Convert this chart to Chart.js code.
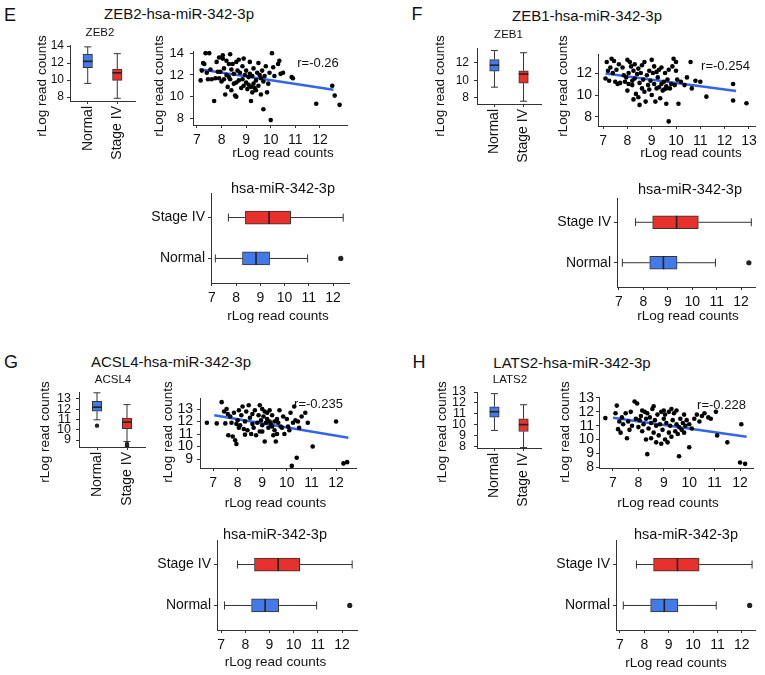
<!DOCTYPE html>
<html><head><meta charset="utf-8">
<script src="https://cdn.jsdelivr.net/npm/chart.js@4.4.1/dist/chart.umd.min.js"></script>
<style>
html,body{margin:0;padding:0;background:#fff;}
#wrap{position:relative;width:765px;height:675px;overflow:hidden;font-family:'Liberation Sans',Arial,Helvetica,sans-serif;color:#111;}
canvas{position:absolute;}
.t{position:absolute;white-space:nowrap;transform:translate(-50%,-50%);line-height:1;z-index:5;}
.r{transform:translate(-50%,-50%) rotate(-90deg);}
</style></head><body><div id="wrap"></div>
<script>
// ---------------- DATA ----------------
const groups = ['Normal', 'Stage IV'];
const groupPos = [1, 2];

// small boxplots: [min, q1, median, q3, max] for Normal, Stage IV
const zeb2Box  = [[9.6, 11.45, 12.2, 13.05, 13.9], [7.85, 9.95, 10.85, 11.28, 13.1]];
const zeb1Box  = [[9.23, 11.07, 11.74, 12.37, 13.42], [7.63, 9.68, 10.73, 11.1, 13.16]];
const acsl4Box = [[10.97, 11.8, 12.2, 12.77, 13.6], [8.85, 10.1, 10.75, 11.15, 12.45]];
const lats2Box = [[9.5, 10.7, 11.2, 11.66, 12.85], [7.94, 9.4, 10.03, 10.56, 11.84]];
const acsl4Out = [[1, 10.4], [2, 8.62], [2, 8.52], [2, 8.42]];

// miRNA boxplot (hsa-miR-342-3p)
const mirBox = [[7.14, 8.26, 8.82, 9.38, 10.95], [7.68, 8.38, 9.36, 10.25, 12.42]];
const mirOut = [[1, 12.32]];

// tick labels
const ticksZeb2Small  = [8, 10, 12, 14];
const ticksZeb1Small  = [8, 10, 12];
const ticksAcsl4Small = [9, 10, 11, 12, 13];
const ticksLats2Small = [8, 9, 10, 11, 12, 13];
const ticksZeb2Y  = [8, 10, 12, 14];
const ticksZeb1Y  = [8, 10, 12];
const ticksAcsl4Y = [9, 10, 11, 12, 13];
const ticksLats2Y = [8, 9, 10, 11, 12, 13];
const ticksX7to12 = [7, 8, 9, 10, 11, 12];
const ticksX7to13 = [7, 8, 9, 10, 11, 12, 13];

// scatter points [miR-342-3p, gene]
const zeb2Points = [[7.15,11.5],[7.2,12.4],[7.25,13.1],[7.3,13.0],[7.35,14.0],[7.5,14.0],[7.45,11.6],[7.55,12.5],[7.6,11.6],[7.7,9.6],[7.75,11.7],[7.8,13.2],[7.85,12.3],[7.9,11.7],[7.95,12.3],[8.0,11.4],[8.05,13.5],[8.05,13.8],[8.1,12.6],[8.1,11.6],[8.15,10.2],[8.2,13.3],[8.2,12.0],[8.25,10.9],[8.3,11.8],[8.3,13.0],[8.35,13.9],[8.4,12.5],[8.4,10.6],[8.45,13.0],[8.5,11.2],[8.5,12.1],[8.55,10.1],[8.6,13.2],[8.6,10.0],[8.65,12.4],[8.7,11.5],[8.7,13.4],[8.75,12.2],[8.8,10.8],[8.85,11.6],[8.85,12.8],[8.9,11.0],[8.95,12.0],[9.0,11.3],[9.0,12.4],[9.05,10.7],[9.1,11.8],[9.1,11.1],[9.15,12.1],[9.2,9.6],[9.2,10.9],[9.25,11.9],[9.3,11.2],[9.3,12.6],[9.35,10.8],[9.4,11.5],[9.45,12.2],[9.5,11.0],[9.5,13.1],[9.55,12.0],[9.6,11.7],[9.65,12.4],[9.7,11.4],[9.7,8.85],[9.75,11.9],[9.8,12.8],[9.85,10.4],[9.9,11.2],[9.95,12.2],[10.0,7.85],[10.05,14.0],[10.1,12.7],[10.15,11.9],[10.3,13.0],[10.35,13.3],[10.4,12.1],[10.5,12.2],[10.85,11.8],[10.9,11.7],[11.85,9.35],[12.5,11.0],[12.6,10.1],[12.8,9.25],[7.4,12.2],[8.9,13.5],[9.15,13.2],[9.4,10.6],[8.6,11.3],[9.6,10.2],[8.35,11.6],[7.9,13.6],[9.25,10.4]];
const zeb1Points = [[7.1,11.5],[7.15,13.0],[7.2,12.2],[7.25,11.3],[7.3,12.5],[7.35,13.3],[7.4,12.0],[7.45,13.1],[7.5,11.2],[7.55,12.3],[7.6,11.0],[7.7,11.1],[7.8,12.5],[7.85,11.8],[7.9,11.2],[7.95,11.6],[8.0,13.2],[8.05,12.0],[8.05,11.0],[8.1,13.0],[8.15,12.6],[8.2,11.3],[8.2,10.9],[8.25,12.2],[8.3,11.5],[8.3,12.8],[8.35,10.1],[8.4,11.9],[8.45,9.8],[8.45,12.4],[8.5,11.1],[8.5,9.1],[8.55,12.0],[8.6,10.6],[8.6,12.7],[8.65,11.4],[8.7,10.3],[8.7,13.0],[8.75,9.4],[8.8,11.8],[8.85,10.9],[8.9,12.2],[8.95,11.3],[9.0,13.2],[9.0,10.0],[9.05,12.0],[9.1,11.0],[9.15,9.4],[9.2,12.1],[9.2,10.6],[9.25,11.6],[9.3,12.3],[9.35,9.7],[9.4,11.0],[9.4,12.5],[9.45,10.4],[9.5,11.2],[9.55,12.0],[9.6,10.8],[9.6,9.2],[9.65,11.4],[9.7,7.6],[9.7,12.3],[9.75,10.6],[9.8,11.0],[9.85,12.6],[9.9,13.3],[9.95,10.9],[10.0,13.0],[10.0,12.2],[10.05,11.4],[10.1,9.2],[10.2,11.2],[10.35,10.9],[10.45,11.6],[10.6,13.0],[10.65,10.6],[10.8,11.3],[11.0,11.2],[11.25,9.85],[12.35,11.0],[12.35,9.5],[12.9,9.25],[8.0,10.4],[8.9,10.5],[9.3,10.7],[9.5,10.5],[9.6,10.6],[7.65,12.8],[9.1,12.6],[8.25,9.6]];
const acsl4Points = [[6.75,11.9],[7.15,11.85],[7.35,13.55],[7.45,12.8],[7.5,11.85],[7.55,13.0],[7.6,12.6],[7.62,10.9],[7.7,12.4],[7.75,11.9],[7.8,10.8],[7.85,12.7],[7.9,10.5],[7.95,10.2],[7.95,11.8],[8.0,12.1],[8.05,12.9],[8.1,11.7],[8.15,12.5],[8.2,13.2],[8.25,11.4],[8.3,12.0],[8.35,12.8],[8.4,11.3],[8.45,13.3],[8.5,12.3],[8.55,11.0],[8.6,12.6],[8.65,11.5],[8.7,12.9],[8.75,10.9],[8.8,11.9],[8.85,12.5],[8.9,11.2],[8.95,12.1],[9.0,13.0],[9.0,11.7],[9.05,12.4],[9.1,10.4],[9.1,12.8],[9.15,11.9],[9.2,12.2],[9.25,11.5],[9.3,12.9],[9.3,12.0],[9.35,11.8],[9.4,12.5],[9.45,10.9],[9.5,12.0],[9.5,11.3],[9.55,10.4],[9.6,12.2],[9.65,11.9],[9.7,12.9],[9.75,11.6],[9.8,11.5],[9.85,12.4],[9.9,11.0],[10.0,12.2],[10.05,11.6],[10.15,12.7],[10.2,8.45],[10.25,11.9],[10.35,12.1],[10.4,9.1],[10.45,12.0],[10.5,11.5],[10.6,12.4],[10.75,12.7],[10.85,11.9],[11.05,10.0],[12.0,12.0],[12.3,8.65],[12.45,8.75],[8.05,11.5],[8.6,11.8],[9.2,12.7],[9.4,11.6],[8.3,10.95],[9.0,11.2],[9.6,11.0],[8.9,13.3],[10.1,11.3],[10.3,13.2]];
const lats2Points = [[6.7,11.55],[7.1,11.9],[7.15,12.45],[7.2,10.75],[7.25,11.3],[7.3,10.5],[7.35,11.6],[7.4,11.1],[7.5,11.9],[7.55,10.1],[7.6,11.3],[7.7,12.0],[7.75,11.0],[7.85,12.75],[7.9,11.5],[7.95,12.6],[8.0,10.9],[8.05,11.4],[8.1,11.7],[8.15,10.6],[8.2,11.1],[8.25,12.0],[8.3,10.0],[8.3,11.5],[8.35,8.95],[8.4,10.8],[8.45,11.6],[8.5,10.1],[8.5,11.2],[8.55,12.2],[8.6,10.5],[8.65,11.4],[8.7,9.8],[8.7,11.0],[8.75,11.8],[8.8,10.3],[8.85,11.1],[8.9,12.0],[8.95,10.7],[9.0,11.5],[9.0,12.1],[9.05,10.0],[9.1,11.2],[9.15,9.8],[9.2,12.0],[9.2,10.5],[9.25,11.0],[9.3,10.2],[9.35,11.4],[9.4,11.9],[9.45,10.6],[9.5,11.1],[9.5,12.1],[9.55,10.4],[9.6,8.8],[9.6,10.9],[9.65,11.5],[9.7,10.7],[9.75,11.2],[9.8,10.5],[9.85,11.0],[9.9,11.4],[10.0,9.45],[10.0,11.1],[10.1,10.8],[10.2,11.5],[10.3,11.8],[10.4,11.3],[10.5,11.7],[10.6,11.9],[10.75,11.6],[10.85,11.5],[11.05,12.0],[11.1,10.3],[11.5,9.8],[12.05,11.1],[12.0,8.35],[12.2,8.25],[8.15,12.1],[8.6,12.4],[9.3,12.2],[9.05,11.8],[8.35,11.9],[9.8,11.8],[7.65,10.7],[8.9,9.7]];

// regression line end points [x], [y]
const zeb2FitX = [7.1, 12.55],  zeb2FitY = [12.52, 10.64];
const zeb1FitX = [7.1, 12.47],  zeb1FitY = [11.95, 10.37];
const acsl4FitX = [7.05, 12.5], acsl4FitY = [12.5, 10.7];
const lats2FitX = [7.0, 12.26], lats2FitY = [11.57, 10.2];

// ---------------- RENDER ----------------
const FONT = "'Liberation Sans', Arial, Helvetica, sans-serif";
const BLUE = '#4479e8', RED = '#e8302c', LINE = '#333';
const wrap = document.getElementById('wrap');
const P = 8;

function addText(str, cx, cy, size, rot) {
  const d = document.createElement('div');
  d.className = 't' + (rot ? ' r' : '');
  d.textContent = str;
  d.style.left = cx + 'px'; d.style.top = cy + 'px'; d.style.fontSize = size + 'px';
  wrap.appendChild(d);
}

function makeCanvas(area, yW, xH) {
  const c = document.createElement('canvas');
  const w = (area[2] - area[0]) + yW + 2 * P;
  const h = (area[3] - area[1]) + xH + 2 * P;
  c.width = w; c.height = h;
  c.style.left = (area[0] - yW - P) + 'px'; c.style.top = (area[1] - P) + 'px';
  c.style.width = w + 'px'; c.style.height = h + 'px';
  wrap.appendChild(c);
  return c;
}

function axis(min, max, tickVals, o) {
  return {
    type: 'linear', min: min, max: max, bounds: 'data', offset: false,
    afterBuildTicks: s => { s.ticks = tickVals.map(v => ({value: v})); },
    afterFit: s => {
      if (o.w !== undefined) s.width = o.w;
      if (o.h !== undefined) s.height = o.h;
      s.paddingLeft = s.paddingRight = s.paddingTop = s.paddingBottom = 0;
    },
    grid: {display: true, drawOnChartArea: false, drawTicks: true, tickLength: 3, tickColor: LINE, tickWidth: 1, offset: false},
    border: {display: true, color: LINE, width: 1},
    ticks: {autoSkip: false, padding: o.pad, font: {family: FONT, size: o.fs}, color: '#111',
      maxRotation: o.rot || 0, minRotation: o.rot || 0,
      callback: o.labels ? ((v, i) => o.labels[i]) : (v => String(v))}
  };
}

const baseOpts = {responsive: false, maintainAspectRatio: false, animation: false, events: [],
  layout: {padding: P}};

function scatterChart(area, xr, yr, xt, yt, pts, fx, fy, yfs, ypad, xfs) {
  const yW = 30, xH = 30;
  const c = makeCanvas(area, yW, xH);
  new Chart(c, {
    type: 'scatter',
    data: {datasets: [
      {data: pts.map(p => ({x: p[0], y: p[1]})), pointRadius: 2.3, backgroundColor: '#000', borderColor: '#000', pointBorderWidth: 0, showLine: false},
      {type: 'line', data: fx.map((x, i) => ({x: x, y: fy[i]})), borderColor: '#3366e6', borderWidth: 2.5, pointRadius: 0, fill: false, tension: 0}
    ]},
    options: Object.assign({}, baseOpts, {
      plugins: {legend: {display: false}, tooltip: {enabled: false}},
      scales: {
        x: axis(xr[0], xr[1], xt, {h: xH, pad: 4, fs: xfs}),
        y: axis(yr[0], yr[1], yt, {w: yW, pad: ypad, fs: yfs})
      }
    })
  });
}

const boxPlugin = {
  id: 'boxWhiskers',
  beforeDatasetsDraw(chart, args, o) {
    const ctx = chart.ctx, xs = chart.scales.x, ys = chart.scales.y;
    ctx.save(); ctx.strokeStyle = LINE; ctx.lineWidth = 1;
    o.stats.forEach((s, i) => {
      const p = o.pos[i];
      ctx.beginPath();
      if (o.horizontal) {
        const y = ys.getPixelForValue(p);
        const a = xs.getPixelForValue(s[0]), b = xs.getPixelForValue(s[1]);
        const c = xs.getPixelForValue(s[3]), d = xs.getPixelForValue(s[4]);
        ctx.moveTo(a, y); ctx.lineTo(b, y); ctx.moveTo(c, y); ctx.lineTo(d, y);
        ctx.moveTo(a, y - o.cap); ctx.lineTo(a, y + o.cap);
        ctx.moveTo(d, y - o.cap); ctx.lineTo(d, y + o.cap);
      } else {
        const x = xs.getPixelForValue(p);
        const a = ys.getPixelForValue(s[0]), b = ys.getPixelForValue(s[1]);
        const c = ys.getPixelForValue(s[3]), d = ys.getPixelForValue(s[4]);
        ctx.moveTo(x, a); ctx.lineTo(x, b); ctx.moveTo(x, c); ctx.lineTo(x, d);
        ctx.moveTo(x - o.cap, a); ctx.lineTo(x + o.cap, a);
        ctx.moveTo(x - o.cap, d); ctx.lineTo(x + o.cap, d);
      }
      ctx.stroke();
    });
    ctx.restore();
  },
  afterDatasetsDraw(chart, args, o) {
    const ctx = chart.ctx, xs = chart.scales.x, ys = chart.scales.y;
    ctx.save(); ctx.strokeStyle = '#222'; ctx.lineWidth = 1.6;
    o.stats.forEach((s, i) => {
      const p = o.pos[i], h = o.thick / 2;
      ctx.beginPath();
      if (o.horizontal) {
        const y = ys.getPixelForValue(p), m = xs.getPixelForValue(s[2]);
        ctx.moveTo(m, y - h); ctx.lineTo(m, y + h);
      } else {
        const x = xs.getPixelForValue(p), m = ys.getPixelForValue(s[2]);
        ctx.moveTo(x - h, m); ctx.lineTo(x + h, m);
      }
      ctx.stroke();
    });
    ctx.restore();
  }
};

function boxChart(area, vr, vt, stats, outs, o) {
  const c = makeCanvas(area, o.yW, o.xH);
  const hz = !!o.horizontal;
  const boxData = stats.map((s, i) => hz ? {y: groupPos[i], x: [s[1], s[3]]} : {x: groupPos[i], y: [s[1], s[3]]});
  const outData = outs.map(q => hz ? {x: q[1], y: q[0]} : {x: q[0], y: q[1]});
  const catAxis = axis(0.4, 2.6, groupPos, hz ? {w: o.yW, pad: 3, fs: o.catFs, labels: groups}
                                            : {h: o.xH, pad: 2, fs: o.catFs, labels: groups, rot: 90});
  const valAxis = axis(vr[0], vr[1], vt, hz ? {h: o.xH, pad: 4, fs: o.valFs}
                                          : {w: o.yW, pad: o.valPad, fs: o.valFs});
  new Chart(c, {
    type: 'bar',
    data: {datasets: [
      {type: 'bar', indexAxis: hz ? 'y' : 'x', data: boxData, backgroundColor: [BLUE, RED], borderColor: LINE, borderWidth: 1,
       borderSkipped: false, barThickness: o.thick, grouped: false},
      {type: 'scatter', data: outData, pointRadius: o.outR, backgroundColor: '#222', borderColor: '#222', pointBorderWidth: 0, showLine: false}
    ]},
    plugins: [boxPlugin],
    options: Object.assign({}, baseOpts, {
      indexAxis: hz ? 'y' : 'x',
      plugins: {legend: {display: false}, tooltip: {enabled: false},
        boxWhiskers: {stats: stats, pos: groupPos, horizontal: hz, cap: o.cap, thick: o.thick}},
      scales: hz ? {x: valAxis, y: catAxis} : {x: catAxis, y: valAxis}
    })
  });
}

const smallOpts = (pad, fs) => ({yW: 30, xH: 70, thick: 9.5, cap: 3.5, outR: 2.2, catFs: 14, valFs: fs, valPad: pad});
const hOpts = {horizontal: true, yW: 75, xH: 30, thick: 13, cap: 4, outR: 2.6, catFs: 14, valFs: 14};

// ---- Panel E ----
boxChart([70, 45, 135, 101], [7.53, 14.12], ticksZeb2Small, zeb2Box, [], smallOpts(3, 12));
scatterChart([193, 51, 347, 125], [6.84, 13.1], [7.4, 14.2], ticksX7to12, ticksZeb2Y, zeb2Points, zeb2FitX, zeb2FitY, 13, 6, 14);
boxChart([211, 193, 349, 283], [6.96, 12.66], ticksX7to12, mirBox, mirOut, hOpts);
// ---- Panel F ----
boxChart([477, 48, 541, 104], [7.31, 13.7], ticksZeb1Small, zeb1Box, [], smallOpts(5, 12));
scatterChart([598, 54, 755, 126], [6.79, 13.25], [7.18, 13.73], ticksX7to13, ticksZeb1Y, zeb1Points, zeb1FitX, zeb1FitY, 14, 3, 14);
boxChart([617, 198, 755, 287], [6.92, 12.57], ticksX7to12, mirBox, mirOut, hOpts);
// ---- Panel G ----
boxChart([79, 392, 145, 447], [8.32, 13.68], ticksAcsl4Small, acsl4Box, acsl4Out, smallOpts(5, 12.5));
scatterChart([200, 398, 356, 468], [6.47, 12.81], [8.28, 13.88], ticksX7to12, ticksAcsl4Y, acsl4Points, acsl4FitX, acsl4FitY, 14, 4, 14);
boxChart([217, 540, 357, 630], [6.83, 12.62], ticksX7to12, mirBox, mirOut, hOpts);
// ---- Panel H ----
boxChart([477, 392, 541, 448], [7.9, 13.0], ticksLats2Small, lats2Box, [], smallOpts(8, 12.5));
scatterChart([599, 397, 753, 468], [6.45, 12.51], [7.95, 13.07], ticksX7to12, ticksLats2Y, lats2Points, lats2FitX, lats2FitY, 14, 2, 14);
boxChart([616, 540, 755, 630], [6.84, 12.54], ticksX7to12, mirBox, mirOut, hOpts);

// ---- texts ----
const T = 'rLog read counts';
addText('E', 10, 14.5, 18); addText('F', 417, 14, 18); addText('G', 11, 361.5, 18); addText('H', 419, 361.5, 18);
addText('ZEB2-hsa-miR-342-3p', 179, 12.5, 15); addText('ZEB1-hsa-miR-342-3p', 587, 14.5, 15);
addText('ACSL4-hsa-miR-342-3p', 171, 361, 15); addText('LATS2-hsa-miR-342-3p', 572, 362, 15);
addText('ZEB2', 100, 33, 11.5); addText('ZEB1', 508.5, 35, 11.5); addText('ACSL4', 113, 379.5, 11.5); addText('LATS2', 510, 379.5, 11.5);
[[42, 86], [158.5, 86], [440, 86], [563, 86], [45, 432], [168, 432], [442, 432], [565, 432]].forEach(p => addText(T, p[0], p[1], 13.5, true));
[[283, 153], [691, 153], [275.5, 502.5], [668, 503], [278, 316], [688, 316], [275.5, 662], [676, 663]].forEach(p => addText(T, p[0], p[1], 13.5));
addText('r=-0.26', 318, 62, 13); addText('r=-0.254', 725.5, 64.5, 13); addText('r=-0.235', 318.5, 403, 13); addText('r=-0.228', 721.5, 403.5, 13);
[[283, 188], [690, 189], [275, 534], [686, 534]].forEach(p => addText('hsa-miR-342-3p', p[0], p[1], 14.5));
</script></body></html>
